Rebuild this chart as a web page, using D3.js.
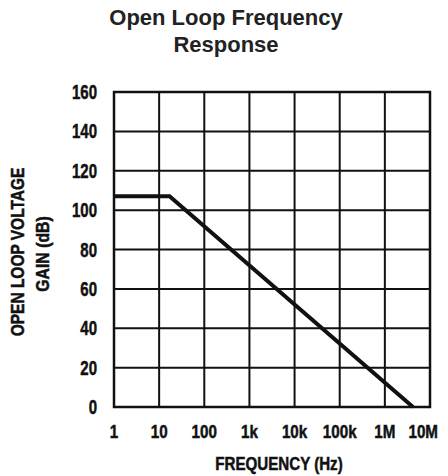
<!DOCTYPE html>
<meta charset="utf-8" />
<title>Open Loop Frequency Response</title>
<script src="https://d3js.org/d3.v7.min.js"></script>
<style>
body { margin: 0; background: #fff; }
.title { font-family: 'Liberation Sans', Arial, sans-serif; font-weight: bold; font-size: 22px; fill: #222; }
.lbl { font-family: 'Liberation Sans', Arial, sans-serif; font-weight: bold; fill: #111; stroke: #111; stroke-width: 0.5px; }
</style>
<div id="chart"></div>
<script>
// curve points (Hz, dB)
var freq = [1, 17, 4.2e6];
var gain = [107, 107, 0];
var xTicks = [1, 10, 100, 1e3, 1e4, 1e5, 1e6, 1e7];
var xTickLabels = ["1", "10", "100", "1k", "10k", "100k", "1M", "10M"];
var yTicks = [0, 20, 40, 60, 80, 100, 120, 140, 160];

var W = 448, H = 476;
var margin = { top: 92, right: 18, bottom: 69, left: 114 },
    width = W - margin.left - margin.right,
    height = H - margin.top - margin.bottom;

var svg = d3.select("#chart").append("svg")
    .attr("width", W)
    .attr("height", H);

svg.append("text").attr("class", "title")
    .attr("x", 226).attr("y", 25).attr("text-anchor", "middle")
    .text("Open Loop Frequency");
svg.append("text").attr("class", "title")
    .attr("x", 226).attr("y", 52).attr("text-anchor", "middle")
    .text("Response");

var g = svg.append("g")
    .attr("transform", "translate(" + margin.left + "," + margin.top + ")");

var x = d3.scaleLog().domain([1, 1e7]).range([0, width]);
var y = d3.scaleLinear().domain([0, 160]).range([height, 0]);

// squeeze text to look like a condensed face
function condense(sel, k) {
    sel.each(function() {
        var len = this.getComputedTextLength();
        d3.select(this).attr("textLength", len * k).attr("lengthAdjust", "spacingAndGlyphs");
    });
}

// grid
g.selectAll(".vgrid")
    .data(xTicks)
    .enter().append("line")
    .attr("x1", function(d) { return x(d); })
    .attr("x2", function(d) { return x(d); })
    .attr("y1", 0).attr("y2", height)
    .style("stroke", "#111").style("stroke-width", 2);
g.selectAll(".hgrid")
    .data(yTicks)
    .enter().append("line")
    .attr("y1", function(d) { return y(d); })
    .attr("y2", function(d) { return y(d); })
    .attr("x1", 0).attr("x2", width)
    .style("stroke", "#111").style("stroke-width", 2);
g.append("rect")
    .attr("width", width).attr("height", height)
    .style("fill", "none").style("stroke", "#111").style("stroke-width", 2.5);

// tick labels
g.selectAll(".xl")
    .data(xTicks)
    .enter().append("text")
    .attr("class", "lbl")
    .attr("x", function(d, i) { return i == xTicks.length - 1 ? width + 8 : x(d); })
    .attr("y", height + 31)
    .attr("text-anchor", function(d, i) { return i == xTicks.length - 1 ? "end" : "middle"; })
    .style("font-size", "19px")
    .text(function(d, i) { return xTickLabels[i]; })
    .call(condense, 0.8);
g.selectAll(".yl")
    .data(yTicks)
    .enter().append("text")
    .attr("class", "lbl")
    .attr("x", -17)
    .attr("y", function(d) { return y(d) + 7; })
    .attr("text-anchor", "end")
    .style("font-size", "20px")
    .text(function(d) { return d; })
    .call(condense, 0.75);

// curve
var line = d3.line()
    .x(function(d) { return x(d[0]); })
    .y(function(d) { return y(d[1]); });
g.append("path")
    .datum(freq.map(function(f, i) { return [f, gain[i]]; }))
    .attr("d", line)
    .style("fill", "none").style("stroke", "#111").style("stroke-width", 4);

// axis titles
svg.append("text").attr("class", "lbl")
    .attr("x", 279).attr("y", 470).attr("text-anchor", "middle")
    .style("font-size", "18px")
    .text("FREQUENCY (Hz)")
    .call(condense, 0.84);
svg.append("text").attr("class", "lbl")
    .attr("transform", "translate(24,252) rotate(-90)")
    .attr("text-anchor", "middle")
    .style("font-size", "18px")
    .text("OPEN LOOP VOLTAGE")
    .call(condense, 0.86);
svg.append("text").attr("class", "lbl")
    .attr("transform", "translate(49,254) rotate(-90)")
    .attr("text-anchor", "middle")
    .style("font-size", "18px")
    .text("GAIN (dB)")
    .call(condense, 0.88);
</script>
